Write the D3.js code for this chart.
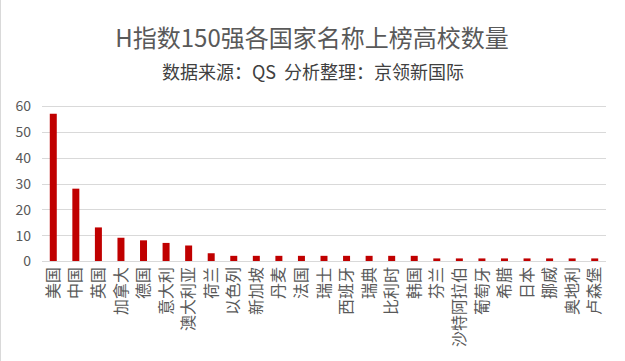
<!DOCTYPE html>
<html><head><meta charset="utf-8">
<script src="https://cdn.jsdelivr.net/npm/d3@7"></script>
<style>html,body{margin:0;padding:0;background:#fff;}svg{display:block;}</style>
</head><body>
<script>
const categories = ["美国","中国","英国","加拿大","德国","意大利","澳大利亚","荷兰","以色列","新加坡","丹麦","法国","瑞士","西班牙","瑞典","比利时","韩国","芬兰","沙特阿拉伯","葡萄牙","希腊","日本","挪威","奥地利","卢森堡"];
const values = [57,28,13,9,8,7,6,3,2,2,2,2,2,2,2,2,2,1,1,1,1,1,1,1,1];
const yTicks = [0,10,20,30,40,50,60];
const title = "H指数150强各国家名称上榜高校数量";
const subtitle = "数据来源：QS  分析整理：京领新国际";

const W = 625, H = 361;
const margin = {left: 42, right: 19, top: 106, bottom: 100};
const font = "'Microsoft YaHei','Noto Sans CJK SC',sans-serif";

const svg = d3.select("body").append("svg").attr("width", W).attr("height", H);
svg.append("rect").attr("width", W).attr("height", H).attr("fill", "#fff");
svg.append("line").attr("x1",0.5).attr("x2",0.5).attr("y1",0).attr("y2",H).attr("stroke","#d9d9d9");

const x = d3.scaleBand().domain(categories).range([margin.left, W - margin.right]).paddingInner(0.69).paddingOuter(0.345);
const y = d3.scaleLinear().domain([0,60]).range([H - margin.bottom, margin.top]);

svg.append("text").attr("x", 312).attr("y", 47).attr("text-anchor","middle")
  .attr("font-family", font).attr("font-size", 24).attr("fill","#595959").text(title);
svg.append("text").attr("x", 313).attr("y", 79).attr("text-anchor","middle")
  .attr("font-family", font).attr("font-size", 18).attr("fill","#404040").attr("xml:space","preserve").text(subtitle);

// grid
svg.append("g").selectAll("line").data(yTicks.filter(d=>d>0)).join("line")
  .attr("x1", margin.left).attr("x2", W - margin.right)
  .attr("y1", d=>Math.round(y(d))+0.5).attr("y2", d=>Math.round(y(d))+0.5)
  .attr("stroke","#d9d9d9").attr("stroke-width",1);

// y axis labels
const yAxis = d3.axisLeft(y).tickValues(yTicks).tickSize(0).tickPadding(0);
const gy = svg.append("g").attr("transform", `translate(31,0)`).call(yAxis);
gy.select(".domain").remove();
gy.selectAll("text").attr("font-family", font).attr("font-size", 14).attr("fill","#595959").attr("dy","0.35em");

// bars
svg.append("g").selectAll("rect").data(values).join("rect")
  .attr("x", (d,i)=>x(categories[i])).attr("width", x.bandwidth())
  .attr("y", d=>y(d)).attr("height", d=>y(0)-y(d)).attr("fill","#c00000");

// x axis
svg.append("line").attr("x1", margin.left).attr("x2", W - margin.right)
  .attr("y1", Math.round(y(0))+0.5).attr("y2", Math.round(y(0))+0.5).attr("stroke","#d9d9d9");
const xAxis = d3.axisBottom(x).tickSize(0).tickPadding(0);
const gx = svg.append("g").attr("transform", `translate(0,${y(0)})`).call(xAxis);
gx.select(".domain").remove();
gx.selectAll("text").attr("font-family", font).attr("font-size", 16).attr("fill","#595959")
  .attr("text-anchor","end").attr("dy","0.35em").attr("transform","translate(0,6) rotate(-90)").attr("x",0).attr("y",0);
</script>
</body></html>
